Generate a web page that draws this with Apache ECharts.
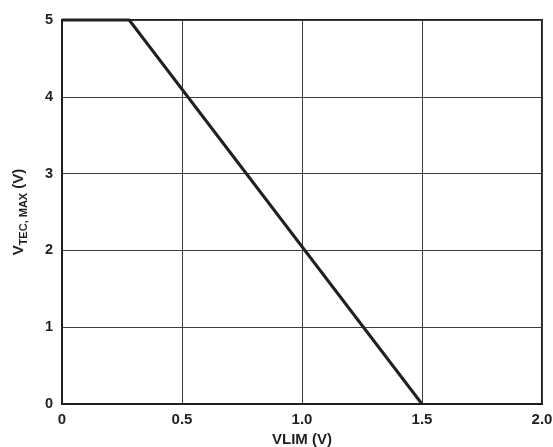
<!DOCTYPE html>
<html>
<head>
<meta charset="utf-8">
<script src="https://cdn.jsdelivr.net/npm/echarts@6/dist/echarts.min.js"></script>
<style>
html,body{margin:0;padding:0;background:#fff;}
#chart{width:553px;height:447px;}
</style>
</head>
<body>
<div id="chart"></div>
<script>
// VLIM (V) vs VTEC,MAX (V)
const vlim = [0, 0.28, 1.5];
const vtecMax = [5, 5, 0];
const xTicks = ['0', '0.5', '1.0', '1.5', '2.0'];
const yTicks = ['0', '1', '2', '3', '4', '5'];

const seriesData = vlim.map((x, i) => [x, vtecMax[i]]);
const font = '"Liberation Sans", Arial, Helvetica, sans-serif';

const chart = echarts.init(document.getElementById('chart'));
chart.setOption({
  animation: false,
  backgroundColor: '#fff',
  grid: {
    left: 62, right: 11, top: 20, bottom: 43,
    containLabel: false,
    outerBoundsMode: 'none',
    show: true, borderColor: '#231f20', borderWidth: 2
  },
  xAxis: {
    type: 'value', min: 0, max: 2, interval: 0.5,
    name: 'VLIM (V)', nameLocation: 'middle', nameGap: 28,
    nameTextStyle: { fontFamily: font, fontWeight: 'bold', fontSize: 15, color: '#231f20' },
    axisLine: { show: true, lineStyle: { color: '#231f20', width: 2 } },
    axisTick: { show: false },
    axisLabel: {
      margin: 8, fontFamily: font, fontWeight: 'bold', fontSize: 15, color: '#231f20',
      formatter: (v) => xTicks[Math.round(v / 0.5)]
    },
    splitLine: { show: true, lineStyle: { color: '#3d3d3f', width: 1 } }
  },
  yAxis: {
    type: 'value', min: 0, max: 5, interval: 1,
    name: '{v|V}{s|TEC, MAX}{v| (V)}', nameLocation: 'middle', nameGap: 36, nameRotate: 90,
    nameTextStyle: {
      fontFamily: font, fontWeight: 'bold', color: '#231f20',
      rich: {
        v: { fontFamily: font, fontWeight: 'bold', fontSize: 15, color: '#231f20', verticalAlign: 'bottom', lineHeight: 18 },
        s: { fontFamily: font, fontWeight: 'bold', fontSize: 11, color: '#231f20', verticalAlign: 'bottom', padding: [0, 0, -3, 0], lineHeight: 18 }
      }
    },
    axisLine: { show: true, lineStyle: { color: '#231f20', width: 2 } },
    axisTick: { show: false },
    axisLabel: {
      margin: 9, fontFamily: font, fontWeight: 'bold', fontSize: 14.5, color: '#231f20',
      formatter: (v) => yTicks[Math.round(v)]
    },
    splitLine: { show: true, lineStyle: { color: '#3d3d3f', width: 1 } }
  },
  series: [{
    type: 'line',
    data: seriesData,
    symbol: 'none',
    lineStyle: { color: '#231f20', width: 3 },
    clip: false
  }]
});
</script>
</body>
</html>
